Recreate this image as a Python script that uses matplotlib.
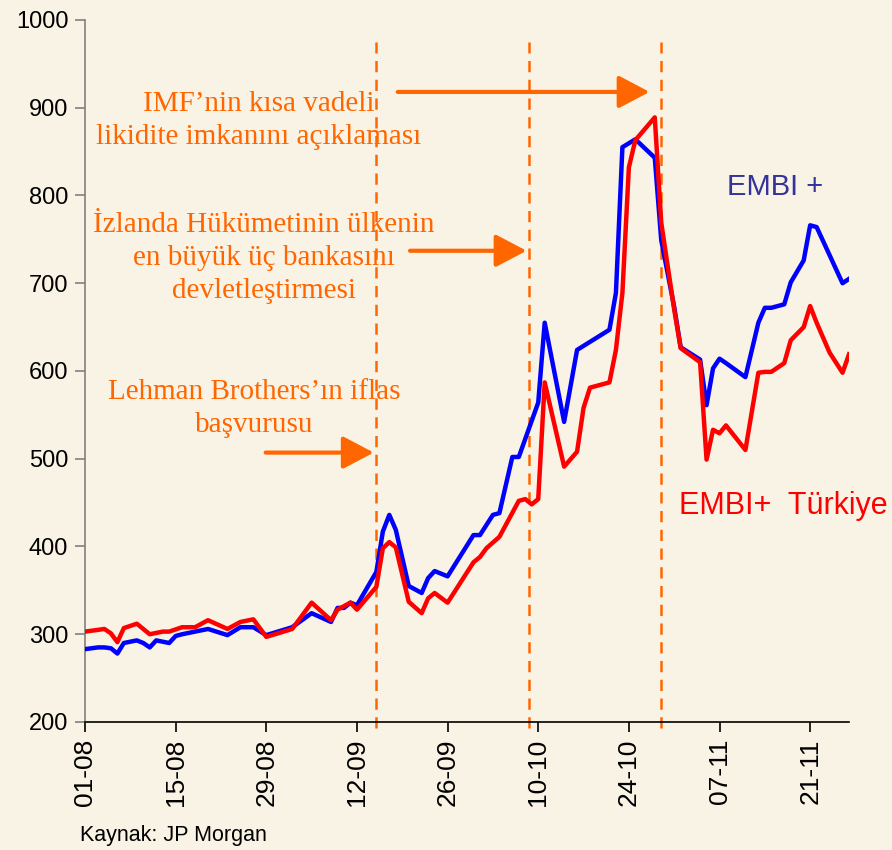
"""
EMBI+ ve EMBI+ Türkiye spread'leri, Ağustos-Kasım 2008 (Kaynak: JP Morgan).
"""
import matplotlib
matplotlib.use('Agg')
import matplotlib.pyplot as plt
from matplotlib.patches import FancyArrowPatch

# gün = 1 Ağustos 2008'den itibaren geçen gün sayısı
embi_gun = [0, 2, 3, 4, 5, 6, 8, 9, 10, 11, 13, 14, 15, 17, 19, 22, 24, 26, 28, 32,
             35, 38, 39, 40, 41, 42, 45, 46, 47, 48, 50, 52, 53, 54, 56, 60, 61, 63, 64, 66,
             67, 70, 71, 74, 76, 81, 82, 83, 85, 88, 89, 91, 92, 95, 96, 97, 98, 99, 102, 104,
             105, 106, 108, 109, 111, 112, 113, 117, 118]
embi_val = [283, 285, 285, 284, 278, 290, 293, 290, 285, 293, 290, 298, 300, 303, 306, 299, 308, 308, 299, 308,
            324, 314, 330, 330, 336, 333, 371, 417, 436, 419, 355, 347, 364, 372, 366, 413, 413, 436, 438, 502,
            502, 564, 655, 542, 624, 647, 689, 855, 864, 843, 749, 673, 627, 613, 561, 603, 614, 609, 593, 655,
            672, 672, 676, 701, 726, 766, 764, 700, 705]

tr_gun = [0, 3, 4, 5, 6, 8, 9, 10, 12, 13, 15, 17, 18, 19, 22, 24, 26, 28, 32, 35,
          38, 39, 41, 42, 45, 46, 47, 48, 50, 52, 53, 54, 56, 60, 61, 62, 64, 67, 68, 69,
          70, 71, 74, 76, 77, 78, 81, 82, 83, 84, 85, 88, 89, 91, 92, 95, 96, 97, 98, 99,
          102, 104, 105, 106, 108, 109, 111, 112, 113, 115, 117, 118]
tr_val = [303, 306, 301, 291, 307, 312, 306, 300, 303, 303, 308, 308, 312, 316, 306, 314, 317, 297, 306, 336,
          316, 328, 336, 328, 354, 398, 405, 399, 337, 324, 341, 347, 336, 382, 388, 398, 411, 452, 454, 448,
          454, 587, 491, 508, 558, 581, 587, 624, 689, 832, 863, 889, 769, 670, 626, 610, 499, 533, 529, 538,
          510, 598, 599, 599, 609, 635, 650, 674, 655, 621, 598, 619]

tick_gun = [0, 14, 28, 42, 56, 70, 84, 98, 112]
tick_lbl = ['01-08', '15-08', '29-08', '12-09', '26-09', '10-10', '24-10', '07-11', '21-11']

# olaylar: Lehman (15-09), İzlanda (08/09-10), IMF (29-10)
olay_gun = [45, 68.5, 89]

bg = '#F9F3E5'
turuncu = '#FF6600'

fig = plt.figure(figsize=(8.92, 8.5), dpi=100, facecolor=bg)
ax = fig.add_axes([0.0953, 0.1506, 0.8565, 0.8259], facecolor=bg)

ax.plot(embi_gun, embi_val, color='#0000FF', lw=3.2, solid_joinstyle='round', zorder=3)
ax.plot(tr_gun, tr_val, color='#FF0000', lw=3.2, solid_joinstyle='round', zorder=4)

for g in olay_gun:
    ax.plot([g, g], [193, 975], color=turuncu, lw=1.8, ls=(0, (4.5, 3)),
            clip_on=False, zorder=2)

ax.set_xlim(0, 118)
ax.set_ylim(200, 1000)
ax.set_yticks(range(200, 1001, 100))
ax.set_xticks(tick_gun)
ax.set_xticklabels(tick_lbl, rotation=90)

for s in ['top', 'right']:
    ax.spines[s].set_visible(False)
ax.spines['left'].set_color('#808080')
ax.spines['left'].set_linewidth(1.2)
ax.spines['bottom'].set_color('black')
ax.spines['bottom'].set_linewidth(1.2)
ax.tick_params(axis='y', direction='out', length=7, color='#808080', width=1.2,
               labelsize=17, pad=5)
ax.tick_params(axis='x', direction='out', length=7, color='black', width=1.2,
               labelsize=19, pad=5)
for lab in ax.get_xticklabels() + ax.get_yticklabels():
    lab.set_family('Liberation Sans')

serif = dict(family='Liberation Serif', fontsize=21, color=turuncu,
             ha='center', va='center', multialignment='center', linespacing=1.35)
ax.text(26.8, 886, 'IMF’nin kısa vadeli\nlikidite imkanını açıklaması', **serif)
ax.text(27.6, 729, 'İzlanda Hükümetinin ülkenin\nen büyük üç bankasını\ndevletleştirmesi', **serif)
ax.text(26.1, 557, 'Lehman Brothers’ın iflas\nbaşvurusu', **serif)

# oklar
for x0, x1, y in [(48.3, 87.2, 918), (50.2, 68.2, 737), (27.9, 44.6, 507)]:
    ok = FancyArrowPatch((x0, y), (x1, y), arrowstyle='-|>,head_length=0.95,head_width=0.5',
                         mutation_scale=20, color=turuncu, lw=3, shrinkA=0, shrinkB=0,
                         zorder=5)
    ax.add_patch(ok)

ax.text(99.1, 810, 'EMBI +', family='Liberation Sans', fontsize=21, color='#333399',
        ha='left', va='center')
ax.text(91.8, 446, 'EMBI+  Türkiye', family='Liberation Sans', fontsize=22, color='#FF0000',
        ha='left', va='center')

fig.text(80 / 892, 1 - 835 / 850, 'Kaynak: JP Morgan', family='Liberation Sans',
         fontsize=15.5, color='black', ha='left', va='center')

fig.savefig('out.png', dpi=100, facecolor=bg)
